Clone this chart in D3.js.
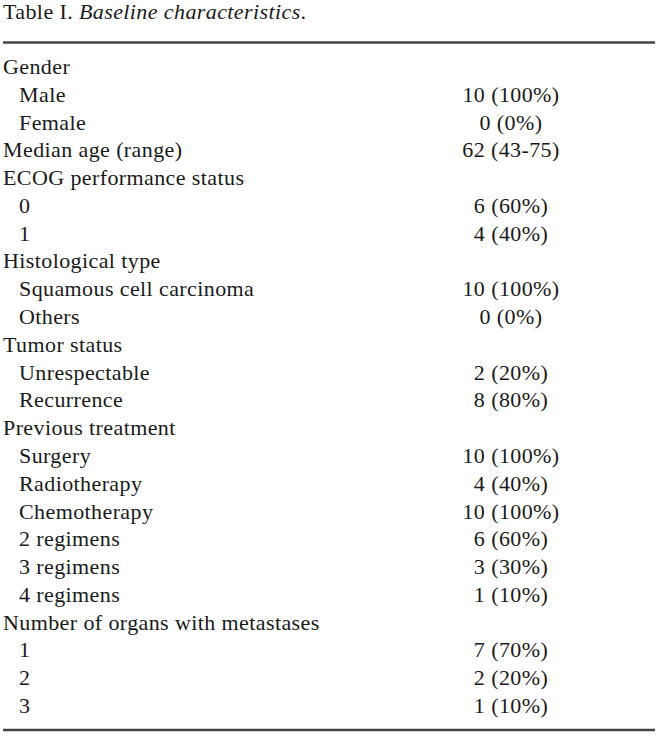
<!DOCTYPE html>
<html>
<head>
<meta charset="utf-8">
<script src="https://cdn.jsdelivr.net/npm/d3@7"></script>
<style>
  body { margin: 0; background: #fff; }
  svg { display: block; }
  text { font-family: "Liberation Serif", "Times New Roman", serif; font-size: 22px; letter-spacing: 0.4px; fill: #1a1a1a; }
</style>
</head>
<body>
<svg id="chart"></svg>
<script>
// table content
const labels = [
  'Gender', 'Male', 'Female', 'Median age (range)',
  'ECOG performance status', '0', '1',
  'Histological type', 'Squamous cell carcinoma', 'Others',
  'Tumor status', 'Unrespectable', 'Recurrence',
  'Previous treatment', 'Surgery', 'Radiotherapy', 'Chemotherapy',
  '2 regimens', '3 regimens', '4 regimens',
  'Number of organs with metastases', '1', '2', '3'
];
const indent = [0, 1, 1, 0, 0, 1, 1, 0, 1, 1, 0, 1, 1, 0, 1, 1, 1, 1, 1, 1, 0, 1, 1, 1];
const values = [
  '', '10 (100%)', '0 (0%)', '62 (43-75)',
  '', '6 (60%)', '4 (40%)',
  '', '10 (100%)', '0 (0%)',
  '', '2 (20%)', '8 (80%)',
  '', '10 (100%)', '4 (40%)', '10 (100%)',
  '6 (60%)', '3 (30%)', '1 (10%)',
  '', '7 (70%)', '2 (20%)', '1 (10%)'
];

const width = 672, height = 749;
const svg = d3.select('#chart').attr('width', width).attr('height', height);

const rows = labels.map((l, i) => ({ label: l, indent: indent[i], value: values[i] }));

const y = d3.scalePoint()
  .domain(d3.range(rows.length))
  .range([74, 713]);

const x = d3.scaleLinear().domain([0, 1]).range([3, 655]);

// caption
const cap = svg.append('text').attr('x', 3).attr('y', 19);
cap.append('tspan').text('Table I. ');
cap.append('tspan').style('font-style', 'italic').text('Baseline characteristics');
cap.append('tspan').text('.');

// rules
svg.selectAll('line.rule')
  .data([42.5, 730])
  .enter().append('line')
  .attr('class', 'rule')
  .attr('x1', x(0)).attr('x2', x(1))
  .attr('y1', d => d).attr('y2', d => d)
  .attr('stroke', '#444')
  .attr('stroke-width', 2.4);

const g = svg.selectAll('g.row')
  .data(rows)
  .enter().append('g')
  .attr('class', 'row')
  .attr('transform', (d, i) => `translate(0,${y(i)})`);

g.append('text')
  .attr('x', d => d.indent ? 19 : 3)
  .text(d => d.label);

g.filter(d => d.value)
  .append('text')
  .attr('x', 511)
  .attr('text-anchor', 'middle')
  .text(d => d.value);
</script>
</body>
</html>
